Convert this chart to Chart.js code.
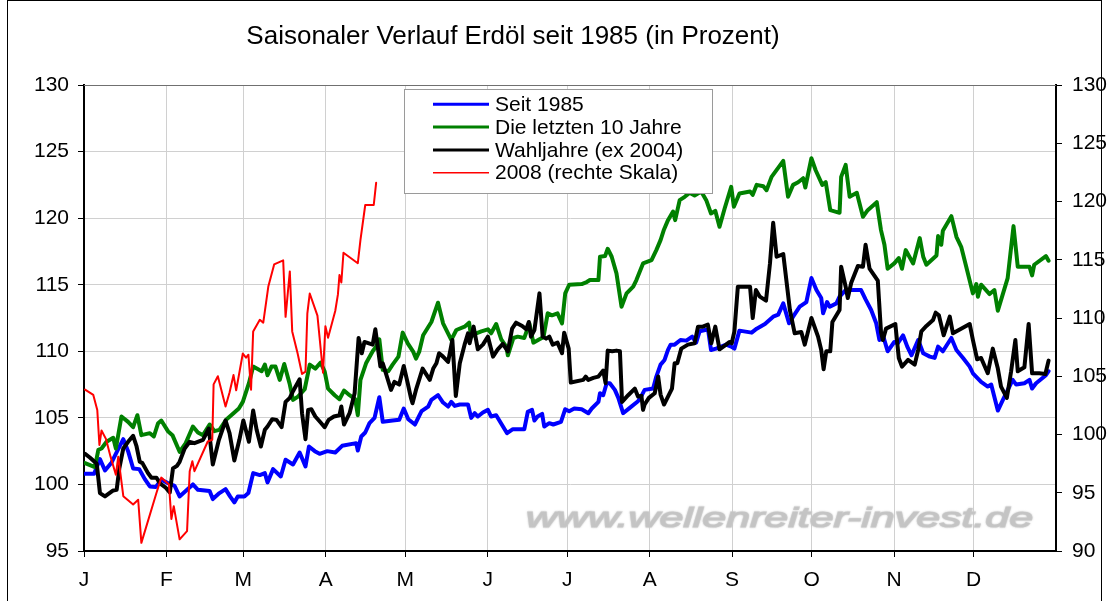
<!DOCTYPE html>
<html><head><meta charset="utf-8">
<script src="https://cdn.jsdelivr.net/npm/chart.js@4.4.1/dist/chart.umd.min.js"></script>
<style>html,body{margin:0;padding:0;background:#fff;overflow:hidden}canvas{display:block}</style>
</head><body>
<canvas id="c" width="1109" height="601"></canvas>
<script>
const titleText = 'Saisonaler Verlauf Erdöl seit 1985 (in Prozent)';
const watermarkText = 'www.wellenreiter-invest.de';
const monthStarts = [0,31,60,91,121,152,182,213,244,274,305,335];
const monthLabels = ['J','F','M','A','M','J','J','A','S','O','N','D'];
const seriesNames = ['Seit 1985','Die letzten 10 Jahre','Wahljahre (ex 2004)','2008 (rechte Skala)'];

// Seit 1985 (linke Skala)
const seit1985Day = [0.4,3.8,6.0,7.9,10.4,12.5,14.8,16.6,18.5,20.8,
22.9,24.8,27.0,29.1,31.6,34.1,36.0,38.8,41.0,42.9,
47.3,48.5,51.0,53.3,55.0,56.6,57.9,60.4,61.9,63.7,
66.2,68.1,69.1,71.2,74.1,75.9,78.7,81.2,83.4,84.7,
86.9,88.7,91.6,94.6,97.2,102.5,103.1,104.4,105.9,107.5,
109.4,111.2,112.5,116.2,118.7,120.4,122.1,124.6,127.1,129.6,
130.8,133.3,135.2,137.1,138.3,139.6,141.5,144.6,145.8,147.1,
148.3,150.2,152.1,153.3,155.2,159.3,161.5,165.8,167.1,168.7,
169.6,170.8,172.5,173.3,175.2,176.7,179.6,181.2,182.7,184.6,
187.4,189.9,191.2,193.7,194.3,195.5,196.8,198.0,199.9,201.2,
203.0,205.5,208.6,209.9,211.1,214.3,215.5,217.1,218.6,219.9,
220.9,222.4,224.6,226.8,229.0,230.5,231.8,233.9,235.0,236.1,
238.0,241.8,243.7,244.9,246.8,251.4,253.3,256.4,259.5,261.4,
263.3,265.5,267.0,269.5,272.0,273.9,275.8,277.6,278.3,279.8,
280.8,283.3,284.5,286.8,292.6,294.3,296.4,298.3,299.5,301.0,
302.6,305.1,306.4,308.4,310.0,311.6,314.1,316.0,318.5,320.3,
321.6,323.4,326.6,328.5,331.0,333.5,334.7,337.8,340.3,341.6,
344.1,346.0,349.7,351.0,354.1,356.0,357.0,358.5,362.2,363.2];
const seit1985 = [100.8,100.8,101.9,101.05,101.65,102.5,103.4,102.5,101.2,101.15,
100.4,99.85,99.8,100.35,100.1,99.9,99.1,99.6,100.0,99.6,
99.5,98.9,99.35,99.65,99.1,98.65,99.1,99.1,99.35,100.85,
100.7,100.85,100.15,101.15,100.6,101.85,101.5,102.4,101.35,102.85,
102.5,102.3,102.5,102.4,102.9,103.1,102.55,103.6,103.9,104.6,
105.0,106.55,104.7,104.8,104.85,105.7,104.9,104.5,105.5,105.85,
106.35,106.7,106.15,105.85,106.2,105.9,106.0,106.0,105.0,105.35,
105.1,105.4,105.6,105.1,105.2,103.85,104.15,104.15,105.45,105.6,
104.8,105.1,105.3,104.35,104.6,104.5,104.7,105.65,105.5,105.7,
105.65,105.35,105.7,106.2,106.85,106.7,107.6,107.6,107.1,106.5,
105.35,105.75,106.25,106.65,107.1,107.2,108.1,109.0,109.35,110.1,
110.5,110.5,110.85,110.8,111.1,110.65,111.5,111.6,111.6,110.1,
110.2,110.5,110.35,110.2,111.55,111.4,111.7,112.05,112.6,112.75,
113.6,112.1,112.6,113.35,113.7,115.5,114.6,114.0,112.85,113.7,
113.35,113.6,114.1,114.6,114.6,113.9,113.1,112.1,110.85,111.1,
110.0,110.7,110.6,111.2,110.35,109.7,110.85,109.85,109.6,109.5,
110.35,110.0,111.0,110.1,109.5,108.85,108.35,107.7,107.35,107.5,
105.55,106.35,107.85,107.5,107.6,107.85,107.2,107.6,108.2,108.5];

// Die letzten 10 Jahre (linke Skala)
const letzte10Day = [0.4,4.1,5.4,6.6,8.5,11.0,12.0,14.1,16.6,18.5,
20.1,21.6,24.8,26.3,27.9,29.1,31.6,33.3,36.0,38.3,
41.0,42.9,44.8,47.3,49.1,51.0,53.5,56.3,58.3,59.8,
62.1,63.7,66.9,68.1,69.1,70.6,72.1,73.7,75.4,77.5,
78.7,80.6,83.1,85.0,87.1,89.1,90.6,91.9,94.4,96.2,
97.9,100.0,102.1,103.1,104.1,106.2,108.7,110.0,111.2,112.5,
114.6,116.2,118.4,120.0,121.9,124.0,125.0,126.2,127.7,130.8,
133.3,135.2,136.7,138.3,140.2,143.3,145.0,145.8,147.7,149.6,
152.1,153.3,155.2,157.1,159.0,159.6,161.7,163.3,165.8,167.7,
169.2,171.5,173.0,174.6,176.2,178.3,180.0,181.2,182.7,187.4,
189.3,190.5,193.7,194.3,196.2,197.2,198.7,200.5,202.4,204.3,
206.8,208.0,210.5,213.7,215.5,217.1,218.4,219.9,221.8,222.6,
224.3,226.2,228.0,229.9,232.4,234.3,236.1,237.7,239.3,241.2,
243.7,244.7,246.8,250.8,251.8,253.3,255.8,257.0,258.9,263.3,
265.1,267.0,268.9,270.8,271.6,273.9,275.5,278.0,279.3,281.0,
284.5,285.1,286.8,288.3,291.0,293.3,295.1,298.5,300.1,301.4,
302.6,305.1,306.8,308.0,309.4,312.2,314.7,316.0,317.2,321.0,
321.6,322.8,323.4,326.6,328.5,330.3,332.2,334.7,336.0,336.6,
337.8,341.0,342.8,344.1,347.8,350.0,351.6,356.0,357.0,357.8,
362.2,363.2];
const letzte10 = [101.6,101.3,102.6,102.7,103.2,103.5,102.7,105.1,104.7,104.3,
105.2,103.7,103.85,103.6,104.6,104.8,104.0,103.7,102.45,103.1,
104.35,103.9,103.7,104.5,104.0,104.1,104.85,105.35,105.7,106.2,
107.6,108.85,108.5,109.0,108.2,108.85,108.85,107.85,109.05,107.5,
106.35,106.6,107.15,109.0,108.7,109.15,108.5,107.2,106.7,106.4,
107.05,106.7,106.4,105.2,107.85,109.1,110.0,110.35,110.9,108.6,
108.5,109.0,109.6,111.4,110.6,109.95,109.45,109.95,111.2,112.2,
113.65,112.1,111.5,110.85,111.6,111.85,112.15,111.1,111.35,111.5,
111.65,111.35,112.05,110.9,110.35,109.7,111.0,111.1,111.0,112.1,
110.65,110.9,111.05,112.85,112.7,112.85,112.1,114.35,115.0,115.05,
115.2,115.35,115.35,117.1,117.15,117.7,117.1,115.85,113.35,114.35,
114.85,115.35,116.6,116.85,117.6,118.35,119.15,119.85,120.5,119.85,
121.35,121.6,121.9,121.7,122.0,121.35,120.35,120.55,119.35,120.7,
122.35,120.85,121.85,122.0,121.75,122.5,122.4,122.1,123.1,124.3,
121.6,122.5,122.7,123.0,122.3,124.5,123.6,122.5,122.7,120.6,
120.4,123.1,124.0,121.6,121.9,120.1,120.6,121.2,119.1,118.0,
116.2,116.6,117.0,116.2,117.6,116.6,118.5,117.1,116.5,117.2,
118.65,118.0,119.05,120.15,118.6,117.85,116.35,114.35,115.05,114.1,
115.0,114.3,114.6,113.05,115.5,119.4,116.35,116.35,115.7,116.5,
117.15,116.8];

// Wahljahre ex 2004 (linke Skala)
const wahlDay = [0.4,2.3,4.8,6.0,7.9,11.0,12.3,13.3,14.8,16.6,
18.5,19.8,21.0,22.0,24.1,25.4,27.3,28.5,30.8,32.3,
33.5,35.0,36.0,37.9,39.8,41.6,44.8,47.0,48.5,50.8,
53.3,54.8,56.6,58.5,60.0,62.1,63.7,65.0,66.6,68.1,
69.1,70.9,72.5,74.4,75.9,77.5,78.7,81.2,82.1,83.4,
84.4,85.6,87.1,89.1,90.6,92.1,94.1,96.2,96.9,97.9,
100.0,101.9,103.4,104.6,105.6,108.7,109.7,110.6,111.6,112.5,
115.6,116.9,118.7,120.4,121.9,123.1,123.7,125.0,127.5,130.2,
131.5,132.7,133.7,135.2,137.1,138.7,140.0,141.5,143.3,144.6,
145.2,146.7,148.3,150.2,152.1,154.0,155.8,157.7,159.6,161.2,
162.7,165.0,166.5,167.5,168.3,169.6,171.5,172.7,174.0,175.2,
176.5,178.3,180.0,180.8,182.5,183.3,188.0,188.9,189.9,191.8,
193.7,195.5,196.4,197.2,198.9,200.5,201.8,202.6,204.9,207.4,
208.6,209.9,210.5,211.1,212.7,214.9,216.2,217.1,218.4,219.9,
221.4,222.4,223.4,224.9,227.4,229.9,231.2,233.0,234.9,236.2,
237.7,239.3,241.8,243.0,243.9,244.9,246.2,250.8,251.8,253.0,
254.5,256.8,258.3,259.5,260.8,263.3,265.8,267.6,270.1,271.4,
273.9,276.4,277.6,278.5,279.5,281.0,281.8,284.5,285.1,286.8,
287.6,288.9,291.4,293.3,294.3,295.8,298.9,300.1,300.8,302.0,
305.5,306.8,308.0,310.3,312.8,314.1,315.3,317.2,319.7,320.7,
321.9,323.7,326.0,327.2,333.5,334.7,336.3,337.8,340.3,342.2,
344.1,345.3,347.5,349.1,350.7,351.6,354.1,355.7,357.0,359.7,
362.0,363.2];
const wahl = [102.3,102.0,101.55,99.35,99.1,99.55,99.6,101.2,102.7,103.2,
103.65,102.85,101.7,101.6,100.85,100.5,100.5,100.1,99.75,99.4,
101.2,101.4,101.7,102.7,103.2,103.1,103.35,104.2,101.5,103.35,
104.8,103.85,101.8,103.35,104.8,103.2,105.55,104.1,102.85,104.1,
104.35,104.9,104.85,104.3,106.2,106.5,107.0,107.9,105.35,103.4,
105.6,105.65,105.1,104.65,104.3,104.85,105.1,105.2,105.85,104.5,
105.35,106.85,111.0,109.85,110.7,110.5,111.65,110.35,108.85,109.1,
107.1,107.7,107.5,108.9,107.6,106.5,106.1,107.1,108.7,107.85,
108.7,109.1,109.85,109.6,109.2,110.85,106.65,109.1,110.5,111.35,
110.6,111.85,110.15,110.5,111.1,109.6,110.15,110.55,110.0,111.7,
112.15,111.9,111.65,112.2,111.1,111.6,114.35,111.1,110.95,111.1,
110.5,110.65,109.85,111.4,110.2,107.65,107.85,108.1,107.85,108.0,
108.1,108.55,107.6,110.05,110.0,110.05,110.0,106.2,106.7,107.2,
106.6,106.65,105.6,106.0,106.5,106.85,108.1,106.75,106.0,106.6,
107.2,109.1,109.1,110.2,110.5,110.6,111.85,111.85,112.0,110.6,
111.85,110.15,110.5,110.7,110.6,111.5,114.85,114.85,112.5,114.6,
114.1,113.8,116.6,119.65,117.1,117.3,113.1,111.35,111.45,110.5,
112.5,111.1,110.1,108.65,110.0,110.0,112.2,113.1,116.35,114.85,
114.0,115.15,116.4,116.35,118.0,116.2,115.3,111.45,110.85,111.7,
112.05,109.5,108.85,109.35,109.0,110.1,111.5,111.9,112.35,112.9,
112.7,111.2,112.6,111.35,112.05,110.85,109.4,109.5,108.35,110.2,
108.7,107.35,106.5,108.5,110.85,108.5,108.8,112.05,108.35,108.35,
108.3,109.3];

// 2008 (rechte Skala)
const y2008Day = [0.4,3.5,5.0,5.8,6.6,8.3,10.0,12.0,12.9,14.8,
18.5,20.4,21.6,27.3,29.1,32.0,32.9,33.8,36.0,38.8,
39.8,40.8,41.6,46.6,48.3,48.8,50.4,53.3,54.8,56.3,
57.3,59.8,61.0,61.9,62.9,63.7,66.2,67.5,69.4,71.6,
75.0,75.9,77.5,78.4,80.4,82.1,83.4,84.1,85.0,87.9,
90.0,90.9,91.9,94.6,95.6,96.2,96.9,97.7,103.1,104.1,
105.9,109.1,110.0];
const y2008 = [103.85,103.4,102.1,99.1,100.35,99.6,98.1,96.55,98.1,94.7,
94.0,94.4,90.7,95.0,96.3,95.7,92.75,93.85,91.0,91.7,
96.85,97.7,96.85,99.4,99.55,104.3,105.0,102.4,103.6,105.1,
103.8,106.95,106.6,106.85,103.85,108.85,109.85,109.6,112.7,114.6,
114.95,110.1,114.0,108.85,107.0,105.2,105.4,110.4,112.1,110.2,
105.3,109.3,108.3,110.6,112.0,113.7,113.05,115.6,114.7,116.7,
119.7,119.7,121.6];

const FONT = "'Liberation Sans', Arial, Helvetica, sans-serif";
Chart.defaults.font.family = FONT;
Chart.defaults.color = '#000';

function pts(days, vals) { return days.map((d, i) => ({ x: d, y: vals[i] })); }

const decor = {
  id: 'decor',
  beforeDraw(chart) {
    const ctx = chart.ctx;
    ctx.save();
    ctx.fillStyle = '#fff';
    ctx.fillRect(0, 0, chart.width, chart.height);
    ctx.restore();
  },
  beforeDatasetsDraw(chart) {
    const { ctx, chartArea: a } = chart;
    ctx.save();
    ctx.font = 'italic 27px ' + FONT;
    const w = ctx.measureText(watermarkText).width;
    ctx.translate(a.left + 442, a.bottom - 24);
    ctx.scale(507 / w, 1);
    ctx.fillStyle = '#c4c4c4';
    ctx.strokeStyle = '#cdcdcd';
    ctx.lineWidth = 1.2;
    ctx.shadowColor = 'rgba(190,190,190,0.7)';
    ctx.shadowBlur = 2;
    ctx.textBaseline = 'alphabetic';
    ctx.strokeText(watermarkText, 0, 0);
    ctx.fillText(watermarkText, 0, 0);
    ctx.restore();
  },
  afterDatasetsDraw(chart) {
    const ctx = chart.ctx;
    const ds = chart.data.datasets;
    ctx.save();
    ctx.fillStyle = '#fff';
    ctx.fillRect(404, 89, 308, 104);
    ctx.strokeStyle = '#9a9a9a';
    ctx.lineWidth = 1;
    ctx.strokeRect(404.5, 89.5, 308, 104);
    ctx.font = '21px ' + FONT;
    ctx.textBaseline = 'middle';
    ctx.textAlign = 'left';
    ds.forEach((d, i) => {
      const y = 104.3 + i * 22.8;
      ctx.strokeStyle = d.borderColor;
      ctx.lineWidth = d.legendWidth;
      ctx.beginPath();
      ctx.moveTo(433, y);
      ctx.lineTo(489, y);
      ctx.stroke();
      ctx.fillStyle = '#000';
      ctx.fillText(d.label, 495, y + 1);
    });
    ctx.restore();
  },
  afterDraw(chart) {
    const { ctx, chartArea: a } = chart;
    ctx.save();
    ctx.strokeStyle = '#707070';
    ctx.lineWidth = 1;
    ctx.beginPath();
    ctx.moveTo(a.left, a.top + 0.5);
    ctx.lineTo(a.right, a.top + 0.5);
    ctx.stroke();
    ctx.strokeStyle = '#000';
    ctx.strokeRect(7.5, 0.5, 1094, 640);
    ctx.fillStyle = '#000';
    ctx.font = '26px ' + FONT;
    ctx.textAlign = 'center';
    ctx.textBaseline = 'middle';
    ctx.fillText(titleText, 513, 37);
    ctx.restore();
  }
};

new Chart(document.getElementById('c'), {
  type: 'line',
  data: {
    datasets: [
      { label: seriesNames[0], data: pts(seit1985Day, seit1985), borderColor: '#0000ff', borderWidth: 4, yAxisID: 'y', order: 3, legendWidth: 3 },
      { label: seriesNames[1], data: pts(letzte10Day, letzte10), borderColor: '#008000', borderWidth: 4, yAxisID: 'y', order: 2, legendWidth: 3 },
      { label: seriesNames[2], data: pts(wahlDay, wahl), borderColor: '#000000', borderWidth: 4, yAxisID: 'y', order: 1, legendWidth: 3 },
      { label: seriesNames[3], data: pts(y2008Day, y2008), borderColor: '#ff0000', borderWidth: 2, yAxisID: 'y2', order: 0, legendWidth: 1.5 }
    ]
  },
  options: {
    responsive: false,
    devicePixelRatio: 1,
    animation: false,
    events: [],
    layout: { padding: { left: 7, right: 0, top: 85, bottom: 0 } },
    elements: {
      point: { radius: 0 },
      line: { tension: 0, fill: false, borderJoinStyle: 'round', borderCapStyle: 'round' }
    },
    plugins: { legend: { display: false }, title: { display: false }, tooltip: { enabled: false } },
    scales: {
      x: {
        type: 'linear', min: 0, max: 366,
        afterBuildTicks: s => { s.ticks = monthStarts.map(v => ({ value: v })); },
        afterFit: s => { s.height = 50; },
        ticks: { autoSkip: false, maxRotation: 0, padding: 11, color: '#000', font: { size: 21 },
                 callback: (v, i) => monthLabels[i] },
        grid: { color: '#d0d0d0', lineWidth: 1, tickLength: 6, tickColor: '#000' },
        border: { color: '#000', width: 2 }
      },
      y: {
        position: 'left', min: 95, max: 130,
        afterFit: s => { s.width = 77; },
        ticks: { stepSize: 5, padding: 9, color: '#000', font: { size: 21 } },
        grid: { color: '#d0d0d0', lineWidth: 1, tickLength: 6, tickColor: '#000' },
        border: { color: '#000', width: 2 }
      },
      y2: {
        position: 'right', min: 90, max: 130,
        afterFit: s => { s.width = 53; },
        ticks: { stepSize: 5, padding: 10, color: '#000', font: { size: 21 } },
        grid: { drawOnChartArea: false, tickLength: 6, tickColor: '#000' },
        border: { color: '#000', width: 2 }
      }
    }
  },
  plugins: [decor]
});
</script>
</body></html>
